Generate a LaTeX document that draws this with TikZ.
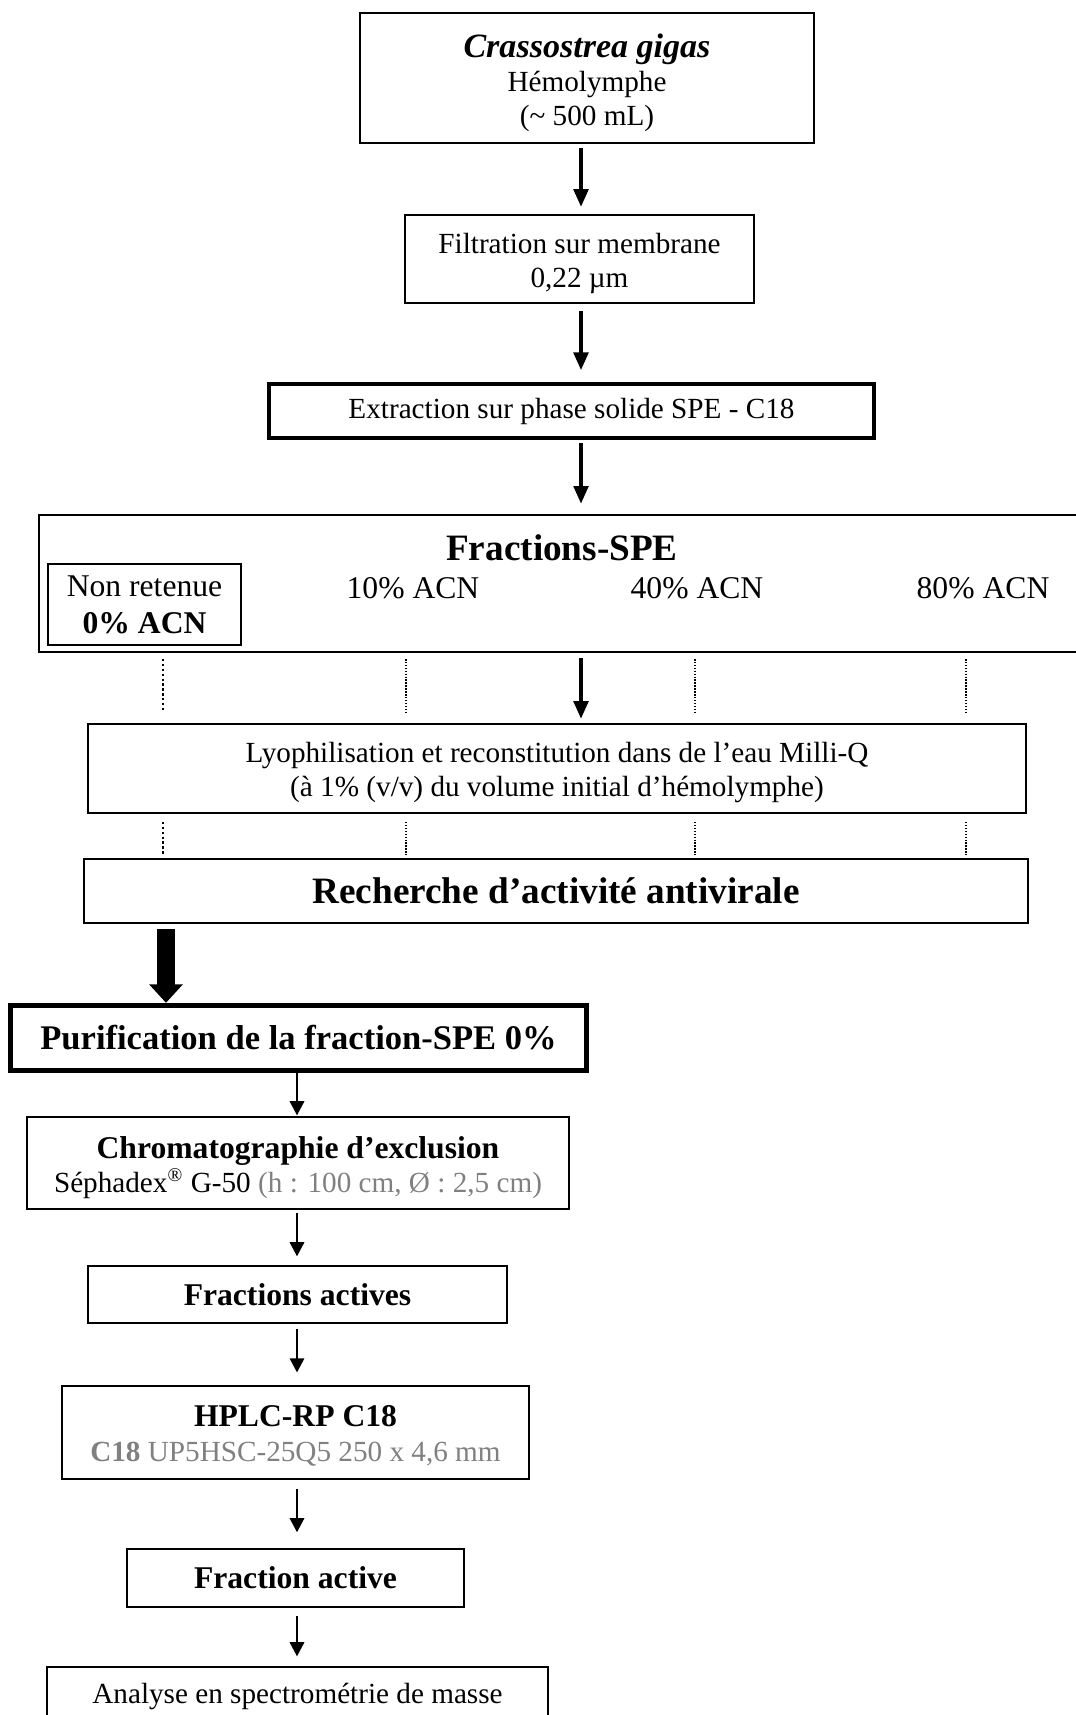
\documentclass[tikz,border=0pt]{standalone}
\usepackage{fontspec}
\setmainfont{Liberation Serif}
\usepackage{xcolor}
\usetikzlibrary{arrows.meta}
\definecolor{greytext}{gray}{0.5}
\newcommand{\lift}[1]{\rule{0pt}{#1}}
\tikzset{
  sized/.style 2 args={minimum width=#1*0.411pt, minimum height=#2*0.411pt},
  box/.style={draw, line width=0.6pt, inner sep=0pt, align=center,
    font=\fontsize{12}{14}\selectfont},
  thickbox/.style={box, line width=1.3pt},
  heavybox/.style={box, line width=2.2pt},
  bigarrow/.style={line width=2pt, -{Triangle[length=7.4pt,width=5.8pt]}},
  hugearrow/.style={line width=7.4pt, -{Triangle[length=7.6pt,width=13.4pt]}},
  thinarrow/.style={line width=0.6pt, -{Triangle[length=5.8pt,width=6pt]}},
  dotA/.style={line width=1pt, dash pattern=on 1pt off 1pt},
  dotB/.style={line width=0.5pt, dash pattern=on 0.6pt off 0.6pt},
}

\begin{document}
\begin{tikzpicture}[x=0.411pt, y=-0.411pt]
  \useasboundingbox (0,0) rectangle (1075,1715);
  \coordinate (mainflow) at (581,0);
  \coordinate (leftflow) at (166,0);
  \coordinate (purflow) at (297,0);
  \foreach \cx [count=\i] in {163,406,695,966}
    \coordinate (col\i) at (\cx,0);

  % extraction
  \node[box, sized={454}{130}] (oyster) at (587,78)
    {{\fontsize{14}{14.4}\selectfont\bfseries\itshape\lift{13.5pt}Crassostrea gigas}\\Hémolymphe\\(\textasciitilde{} 500 mL)};
  \node[box, sized={349}{88}] (filter) at (579.5,259) {\lift{11.8pt}Filtration sur membrane\\0,22 µm};
  \node[thickbox, sized={605}{54}] (spe) at (571.5,411) {Extraction sur phase solide SPE - C18};

  % fractions SPE
  \node[box, line width=0.8pt, sized={1046}{137}] (fractions) at (562,583.5) {};
  \node[anchor=base, font=\fontsize{15.3}{18}\selectfont\bfseries] (fractitle) at (562,560) {Fractions-SPE};
  \node[box, sized={193}{81}, font=\fontsize{13}{15.2}\selectfont] (acn0) at (144.5,604.5)
    {Non retenue\\\textbf{0\% ACN}};
  \node[anchor=base, font=\fontsize{13}{15}\selectfont] (acn10) at (413,598) {10\% ACN};
  \node[anchor=base, font=\fontsize{13}{15}\selectfont] (acn40) at (697,598) {40\% ACN};
  \node[anchor=base, font=\fontsize{13}{15}\selectfont] (acn80) at (983,598) {80\% ACN};

  \node[box, line width=0.8pt, sized={938}{89}] (lyo) at (557,768.5)
    {\lift{11.9pt}Lyophilisation et reconstitution dans de l’eau Milli-Q\\(à 1\% (v/v) du volume initial d’hémolymphe)};
  \node[box, line width=0.8pt, sized={944}{64}, font=\fontsize{15.3}{18}\selectfont\bfseries] (screen) at (556,891)
    {Recherche d’activité antivirale};

  % purification
  \node[heavybox, sized={576}{65}, font=\fontsize{14.2}{17}\selectfont\bfseries] (purif) at (298.5,1038)
    {Purification de la fraction-SPE 0\%};
  \node[box, sized={542}{92}] (sec) at (298,1163)
    {{\fontsize{13}{14}\selectfont\bfseries\lift{12.6pt}Chromatographie d’exclusion}\\Séphadex\textsuperscript{\textregistered} G-50 \textcolor{greytext}{(h : 100 cm, Ø : 2,5 cm)}};
  \node[box, sized={419}{57}, font=\fontsize{13}{15}\selectfont\bfseries] (actives) at (297.5,1294.5) {Fractions actives};
  \node[box, sized={467}{93}] (hplc) at (295.5,1432.5)
    {{\fontsize{13}{14}\selectfont\bfseries\lift{11.4pt}HPLC-RP C18}\\\textcolor{greytext}{\textbf{C18} UP5HSC-25Q5 250 x 4,6 mm}};
  \node[box, sized={337}{58}, font=\fontsize{13}{15}\selectfont\bfseries] (active) at (295.5,1578) {Fraction active};
  \node[box, sized={501}{58}] (ms) at (297.5,1696) {Analyse en spectrométrie de masse};

  % connectors
  \draw[bigarrow, shorten <=1.6pt, shorten >=2.9pt] (oyster.south -| mainflow) -- (filter.north -| mainflow);
  \draw[bigarrow, shorten <=2.9pt, shorten >=4.9pt] (filter.south -| mainflow) -- (spe.north -| mainflow);
  \draw[bigarrow, shorten <=1.6pt, shorten >=4.1pt] (spe.south -| mainflow) -- (fractions.north -| mainflow);
  \draw[bigarrow, shorten <=2.1pt, shorten >=1.6pt] (fractions.south -| mainflow) -- (lyo.north -| mainflow);
  \foreach \i/\s in {1/dotA,2/dotB,3/dotB,4/dotB} {
    \draw[\s, shorten <=2.5pt, shorten >=4.5pt] (fractions.south -| col\i) -- (lyo.north -| col\i);
    \draw[\s, shorten <=3.3pt, shorten >=1.2pt] (lyo.south -| col\i) -- (screen.north -| col\i);
  }
  \draw[hugearrow, shorten <=2.1pt] (screen.south -| leftflow) -- (purif.north -| leftflow);
  \draw[thinarrow, shorten >=0.4pt] (purif.south -| purflow) -- (sec.north -| purflow);
  \draw[thinarrow, shorten <=1.2pt, shorten >=3.7pt] (sec.south -| purflow) -- (actives.north -| purflow);
  \draw[thinarrow, shorten <=2.1pt, shorten >=5.3pt] (actives.south -| purflow) -- (hplc.north -| purflow);
  \draw[thinarrow, shorten <=3.7pt, shorten >=6.6pt] (hplc.south -| purflow) -- (active.north -| purflow);
  \draw[thinarrow, shorten <=3.3pt, shorten >=4.1pt] (active.south -| purflow) -- (ms.north -| purflow);
\end{tikzpicture}
\end{document}
